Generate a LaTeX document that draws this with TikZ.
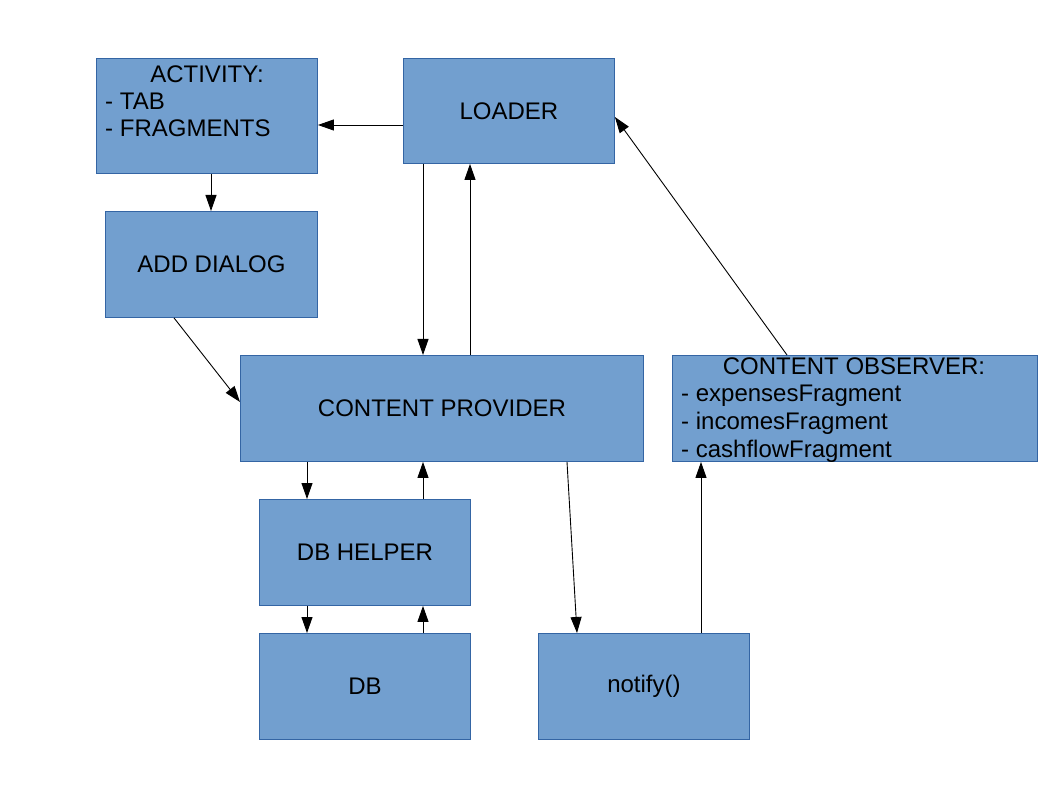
\documentclass[tikz,border=0pt]{standalone}
\usepackage{fontspec}
\setmainfont{Liberation Sans}
\usetikzlibrary{arrows.meta}
\definecolor{boxfill}{HTML}{729FCF}
\definecolor{boxborder}{HTML}{3465A4}
\begin{document}
\begin{tikzpicture}[x=1pt,y=-1pt,
  box/.style={draw=boxborder, fill=boxfill, line width=0.9pt, inner sep=0pt, anchor=north west,
    font=\fontsize{24}{27}\selectfont},
  lbl/.style={inner sep=0pt, font=\fontsize{24}{27}\selectfont},
  arr/.style={draw=black, line width=0.9pt, -{Triangle[length=16pt,width=11pt]}}]
\useasboundingbox (0,0) rectangle (1058,794);
% boxes
\node[box, minimum width=221pt, minimum height=115pt] (act) at (96,58) {};
\node[lbl, anchor=base] (acttitle) at (207,82.5) {ACTIVITY:};
\node[lbl, anchor=base west] (act1) at (105,110) {- TAB};
\node[lbl, anchor=base west] (act2) at (105,137) {- FRAGMENTS};
\node[box, minimum width=211pt, minimum height=105pt] (loader) at (403,58) {};
\node[lbl] (loadertxt) at (loader.center) {LOADER};
\node[box, minimum width=212pt, minimum height=106pt] (add) at (105,211) {};
\node[lbl] (addtxt) at (add.center) {ADD DIALOG};
\node[box, minimum width=403pt, minimum height=106pt] (cp) at (240,355) {};
\node[lbl] (cptxt) at (cp.center) {CONTENT PROVIDER};
\node[box, minimum width=365pt, minimum height=106pt] (co) at (672,355) {};
\node[lbl, anchor=base] (cotitle) at (854,374) {CONTENT OBSERVER:};
\node[lbl, anchor=base west] (co1) at (681,402) {- expensesFragment};
\node[lbl, anchor=base west] (co2) at (681,429.5) {- incomesFragment};
\node[lbl, anchor=base west] (co3) at (681,457) {- cashflowFragment};
\node[box, minimum width=211pt, minimum height=106pt] (dbh) at (259,499) {};
\node[lbl] (dbhtxt) at (dbh.center) {DB HELPER};
\node[box, minimum width=211pt, minimum height=106pt] (db) at (259,633) {};
\node[lbl] (dbtxt) at (db.center) {DB};
\node[box, minimum width=211pt, minimum height=106pt] (notify) at (538,633) {};
\node[lbl] (notifytxt) at (notify.center) {notify()};
% connectors
\draw[arr] (loader.west |- 0,125) -- (act.east |- 0,125);
\draw[arr] (act.south -| 211,0) -- (add.north -| 211,0);
\draw[arr] (add.south -| 174,0) -- (cp.west |- 0,402);
\draw[arr] (loader.south -| 423,0) -- (cp.north -| 423,0);
\draw[arr] (cp.north -| 470,0) -- (loader.south -| 470,0);
\draw[arr] (co.north -| 787,0) -- (loader.east |- 0,117);
\draw[arr] (cp.south -| 307,0) -- (dbh.north -| 307,0);
\draw[arr] (dbh.north -| 423,0) -- (cp.south -| 423,0);
\draw[arr] (dbh.south -| 307,0) -- (db.north -| 307,0);
\draw[arr] (db.north -| 423,0) -- (dbh.south -| 423,0);
\draw[arr] (cp.south -| 567,0) -- (notify.north -| 577,0);
\draw[arr] (notify.north -| 701,0) -- (co.south -| 701,0);
\end{tikzpicture}
\end{document}
